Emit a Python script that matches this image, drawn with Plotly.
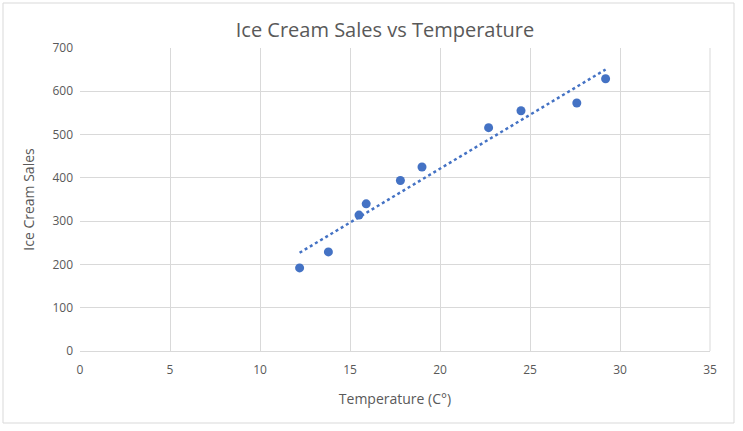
import numpy as np
import plotly.graph_objects as go

temperature = [12.2, 13.8, 15.5, 15.9, 17.8, 19.0, 22.7, 24.5, 27.6, 29.2]
sales = [192, 229, 314, 340, 394, 425, 516, 555, 573, 629]

x_ticks = [0, 5, 10, 15, 20, 25, 30, 35]
y_ticks = [0, 100, 200, 300, 400, 500, 600, 700]

slope, intercept = np.polyfit(temperature, sales, 1)
trend_x = [min(temperature), max(temperature)]
trend_y = [slope * v + intercept for v in trend_x]

W, H = 743, 431
L, R, T, B = 80, 33, 48, 80
pw, ph = W - L - R, H - T - B

font = "Open Sans, sans-serif"
grey = "#595959"
blue = "#4472C4"

fig = go.Figure()
fig.add_trace(go.Scatter(x=trend_x, y=trend_y, mode="lines",
                         line=dict(color=blue, width=2.5, dash="dot"),
                         showlegend=False, hoverinfo="skip"))
fig.add_trace(go.Scatter(x=temperature, y=sales, mode="markers",
                         marker=dict(color=blue, size=9),
                         showlegend=False))

fig.update_layout(
    width=W, height=H,
    margin=dict(l=L, r=R, t=T, b=B),
    paper_bgcolor="white", plot_bgcolor="white",
    font=dict(family=font, color=grey, size=12),
    title=dict(text="Ice Cream Sales vs Temperature", x=385 / W, xanchor="center",
               y=1 - 30 / H, yanchor="middle",
               font=dict(family=font, size=20, color=grey)),
    xaxis=dict(range=[0, 35], tickvals=x_ticks, showgrid=True, gridcolor="#d9d9d9",
               zeroline=False, showline=True, linecolor="#d9d9d9", linewidth=1,
               ticks="", ticklen=0, ticklabelstandoff=8,
               tickfont=dict(size=12, color=grey),
               title=dict(text="Temperature (C°)", font=dict(size=14, color=grey), standoff=16)),
    yaxis=dict(range=[0, 700], tickvals=y_ticks, showgrid=True, gridcolor="#d9d9d9",
               zeroline=False, showline=False,
               ticks="", ticklabelstandoff=6,
               tickfont=dict(size=12, color=grey),
               title=dict(text="Ice Cream Sales", font=dict(size=14, color=grey), standoff=14)),
    shapes=[dict(type="rect", xref="paper", yref="paper",
                 x0=(3 - L) / pw, x1=(734 - L) / pw,
                 y0=(H - B - 423) / ph, y1=(H - B - 3) / ph,
                 line=dict(color="#d9d9d9", width=1), layer="below"),
            dict(type="line", xref="paper", yref="paper", x0=1, x1=1, y0=0, y1=1,
                 line=dict(color="#d9d9d9", width=1))],
)

fig.write_html("out.html")
